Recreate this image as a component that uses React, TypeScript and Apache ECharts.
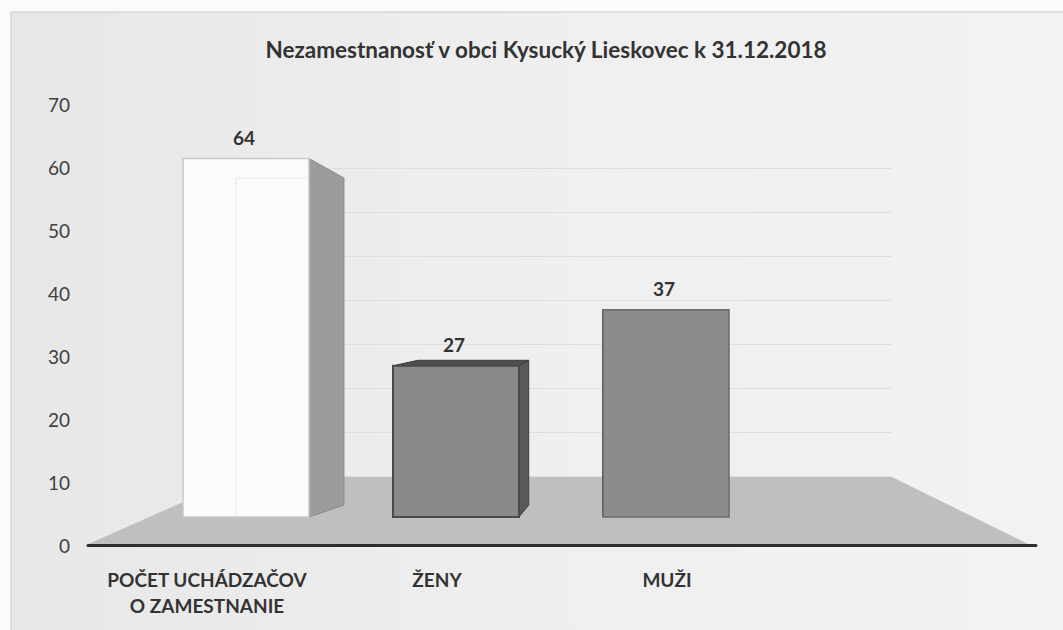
import { useEffect, useRef } from "react";
import * as echarts from "echarts";

// ---- data ----
const chartTitle = "Nezamestnanosť v obci Kysucký Lieskovec k 31.12.2018";
const categories = ["POČET UCHÁDZAČOV\nO ZAMESTNANIE", "ŽENY", "MUŽI"];
const values = [64, 27, 37];
const yMin = 0;
const yMax = 70;
const yInterval = 10;

// ---- styles ----
const frontColors = ["#fbfbfb", "#8a8a8a", "#8c8c8c"];
const frontStrokes = ["#c9c9c9", "#4a4a4a", "#6a6a6a"];
const sideColors = ["#9c9c9c", "#5a5a5a", "#5e5e5e"];
const topColors = ["#dddddd", "#505050", "#606060"];
const VP = [600, 320];
const K = 0.12;
const FONT = "Lato, 'Open Sans', sans-serif";

export default function App() {
  const ref = useRef<HTMLDivElement>(null);
  useEffect(() => {
    if (!ref.current) return;
    const chart = echarts.init(ref.current, undefined, { renderer: "svg" });
    const back = (p: number[]) => [p[0] + K * (VP[0] - p[0]), p[1] + K * (VP[1] - p[1])];

    const renderItem = (params: any, api: any) => {
      const i = api.value(0);
      const v = api.value(1);
      const top = api.coord([i, v]);
      const base = api.coord([i, 0]);
      const w = api.size([1, 0])[0] * 0.6;
      const xl = top[0] - w / 2;
      const xr = top[0] + w / 2;
      const yt = top[1];
      const yb = base[1];
      const children: any[] = [];
      if (VP[0] > xr) {
        const bb = back([xr, yb]);
        children.push({
          type: "polygon",
          shape: { points: [[xr, yt], back([xr, yt]), [bb[0], yb - 12], [xr, yb]] },
          style: { fill: sideColors[i], stroke: i === 0 ? "#8a8a8a" : "#3e3e3e", lineWidth: 1 },
        });
      }
      if (VP[0] < xl) {
        children.push({
          type: "polygon",
          shape: { points: [[xl, yt], back([xl, yt]), back([xl, yb]), [xl, yb]] },
          style: { fill: sideColors[i], stroke: "#3e3e3e", lineWidth: 1 },
        });
      }
      if (VP[1] < yt) {
        children.push({
          type: "polygon",
          shape: { points: [[xl, yt], [xr, yt], back([xr, yt]), back([xl, yt])] },
          style: { fill: topColors[i], stroke: "#3a3a3a", lineWidth: 1 },
        });
      }
      children.push({
        type: "rect",
        shape: { x: xl, y: yt, width: w, height: yb - yt },
        style: { fill: frontColors[i], stroke: frontStrokes[i], lineWidth: i === 1 ? 2 : 1.5 },
      });
      if (i === 0) {
        const bt = back([xr, yt]);
        children.push({
          type: "polyline",
          shape: { points: [[xl + w * 0.42, yb - 2], [xl + w * 0.42, bt[1]], [xr - 1, bt[1]]] },
          style: { stroke: "#e8e8e8", lineWidth: 1, fill: "none" },
        });
      }
      children.push({
        type: "text",
        style: {
          x: top[0] - 2,
          y: yt - 21,
          text: String(v),
          align: "center",
          verticalAlign: "middle",
          fill: "#333333",
          font: `bold 19px ${FONT}`,
        },
      });
      return { type: "group", children };
    };

    chart.setOption({
      animation: false,
      backgroundColor: "#fbfbfb",
      title: {
        text: chartTitle,
        left: 541,
        top: 33,
        textAlign: "center",
        textStyle: { fontFamily: FONT, fontWeight: "bold", fontSize: 22.5, color: "#333333" },
      },
      graphic: [
        {
          type: "rect",
          z: -10,
          shape: { x: 11, y: 12, width: 1060, height: 630 },
          style: {
            fill: new echarts.graphic.LinearGradient(0, 0, 1, 0, [
              { offset: 0, color: "#e7e7e7" },
              { offset: 0.5, color: "#efefef" },
              { offset: 1, color: "#f2f2f2" },
            ]),
            stroke: "#d8d8d8",
            lineWidth: 1.5,
          },
        },
        {
          type: "polygon",
          z: 1,
          shape: { points: [[86, 545], [1030, 545], [892, 477], [240, 477]] },
          style: { fill: "#bfbfbf" },
        },
      ],
      grid: [
        { left: 88, right: 27, top: 104, bottom: 85 },
        { left: 92, width: 690, top: 104, bottom: 85 },
        { left: 141, width: 630, top: 125, bottom: 113 },
        { left: 240, right: 171, top: 168, bottom: 154 },
      ],
      xAxis: [
        {
          gridIndex: 0,
          type: "category",
          data: categories,
          axisLine: { show: true, lineStyle: { color: "#2e2e2e", width: 3 } },
          axisTick: { show: false },
          axisLabel: { show: false },
          z: 5,
        },
        {
          gridIndex: 1,
          type: "category",
          data: categories,
          axisLine: { show: false },
          axisTick: { show: false },
          axisLabel: {
            show: true,
            margin: 21,
            fontFamily: FONT,
            fontWeight: "bold",
            fontSize: 19,
            lineHeight: 26,
            color: "#333333",
            interval: 0,
          },
        },
        { gridIndex: 2, type: "category", data: categories, show: false },
        { gridIndex: 3, type: "category", data: categories, show: false },
      ],
      yAxis: [
        {
          gridIndex: 0,
          type: "value",
          min: yMin,
          max: yMax,
          interval: yInterval,
          axisLine: { show: false },
          axisTick: { show: false },
          splitLine: { show: false },
          axisLabel: { margin: 18, fontFamily: FONT, fontSize: 19, color: "#404040" },
        },
        { gridIndex: 1, type: "value", min: yMin, max: yMax, interval: yInterval, show: false },
        { gridIndex: 2, type: "value", min: yMin, max: yMax, interval: yInterval, show: false },
        {
          gridIndex: 3,
          type: "value",
          min: yMin,
          max: yMax,
          interval: yInterval,
          axisLine: { show: false },
          axisTick: { show: false },
          axisLabel: { show: false },
          splitLine: { show: true, lineStyle: { color: "#dedede", width: 1 } },
        },
      ],
      series: [
        {
          type: "custom",
          xAxisIndex: 2,
          yAxisIndex: 2,
          z: 3,
          renderItem,
          encode: { x: 0, y: 1 },
          data: values.map((v, i) => [i, v]),
        },
      ],
    });
    return () => chart.dispose();
  }, []);
  return (
    <div
      ref={ref}
      style={{ position: "fixed", left: 0, top: 0, width: 1063, height: 630 }}
    />
  );
}
